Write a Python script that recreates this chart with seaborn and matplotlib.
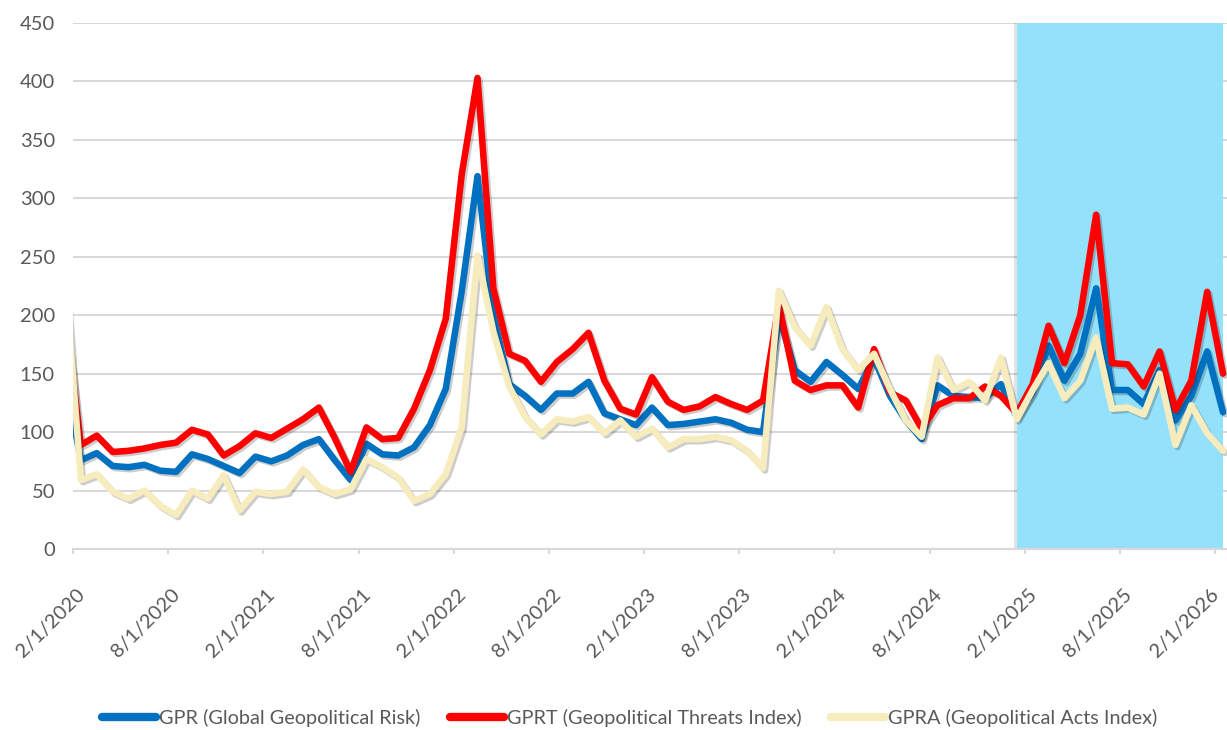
import numpy as np
import pandas as pd
import matplotlib
matplotlib.use("Agg")
import matplotlib.pyplot as plt
import matplotlib.patheffects as pe
import matplotlib.transforms as mtrans
from matplotlib.lines import Line2D
import seaborn as sns

# ---------------- data ----------------
months = pd.date_range("2020-01-01", "2026-02-01", freq="MS")

gpr = [145,
       76, 82, 71, 70, 72, 67, 66, 81, 77, 71, 65, 79, 75, 80, 89, 94, 76, 59,
       90, 81, 80, 87, 106, 137, 220, 319, 200, 141, 131, 119, 133, 133, 143, 116, 111, 106,
       121, 106, 107, 109, 111, 108, 102, 100, 200, 153, 143, 160, 149, 137, 163, 131, 110, 94,
       140, 131, 130, 129, 141, 113, 134, 174, 144, 167, 223, 136, 136, 124, 153, 110, 131, 169, 117]

gprt = [200,
        89, 97, 83, 84, 86, 89, 91, 102, 98, 80, 88, 99, 95, 103, 111, 121, 95, 66,
        104, 94, 95, 120, 153, 197, 320, 403, 223, 167, 161, 143, 160, 171, 185, 144, 120, 115,
        147, 126, 119, 122, 130, 124, 119, 127, 209, 144, 136, 140, 140, 121, 171, 134, 127, 103,
        123, 129, 129, 139, 131, 116, 141, 191, 159, 200, 286, 159, 158, 139, 169, 119, 144, 220, 150]

gpra = [235,
        59, 64, 49, 43, 50, 37, 29, 50, 43, 63, 33, 49, 47, 49, 68, 53, 47, 51,
        77, 70, 61, 41, 47, 64, 104, 251, 186, 139, 113, 98, 111, 109, 113, 99, 110, 96,
        103, 87, 94, 94, 96, 93, 84, 69, 221, 190, 174, 207, 171, 153, 167, 137, 110, 96,
        164, 136, 143, 127, 164, 111, 136, 159, 129, 144, 181, 120, 121, 115, 150, 89, 123, 99, 84]

series_names = ["GPR (Global Geopolitical Risk)",
                "GPRT (Geopolitical Threats Index)",
                "GPRA (Geopolitical Acts Index)"]
colors = ["#0070C0", "#FF0000", "#F7ECBE"]

highlight_start = pd.Timestamp("2025-01-01")
highlight_end = pd.Timestamp("2026-02-01")
y_ticks = list(range(0, 451, 50))
tick_months = (2, 8)

# ---------------- frame ----------------
df = pd.DataFrame({"month": months,
                   series_names[0]: gpr,
                   series_names[1]: gprt,
                   series_names[2]: gpra})
df["pos"] = np.arange(len(months)) - 1          # Feb 2020 -> 0
long = df.melt(id_vars=["month", "pos"], var_name="series", value_name="value")

sns.set_theme(style="white")
plt.rcParams["font.family"] = ["Lato", "DejaVu Sans"]
text_col = "#595959"
grid_col = "#D9D9D9"

fig = plt.figure(figsize=(12.27, 7.30), dpi=100)
ax = fig.add_axes([73 / 1227, 181 / 730, 1154 / 1227, (549 - 23) / 730])

pos_of = dict(zip(df["month"], df["pos"]))
span = ax.axvspan(pos_of[highlight_start], pos_of[highlight_end],
                  color="#94E1FB", lw=0, zorder=1)
span.set_path_effects([pe.SimplePatchShadow(offset=(-2, 0), shadow_rgbFace="k", alpha=0.12),
                       pe.Normal()])

sns.lineplot(data=long, x="pos", y="value", hue="series", palette=colors,
             hue_order=series_names, linewidth=4.7, ax=ax, legend=False, sort=False)
for ln in ax.lines:
    ln.set_solid_joinstyle("round")
    ln.set_solid_capstyle("round")
    ln.set_zorder(3)
    ln.set_path_effects([pe.SimpleLineShadow(offset=(1.5, -1.5), shadow_color="k", alpha=0.22),
                         pe.Normal()])

ax.set_xlim(-0.5, 72.25)
ax.set_ylim(0, 450)
ax.set_axisbelow(True)
ax.yaxis.grid(True, color=grid_col, lw=1.5)
ax.xaxis.grid(False)
for s in ("left", "right", "top"):
    ax.spines[s].set_visible(False)
ax.spines["bottom"].set_color(grid_col)
ax.spines["bottom"].set_linewidth(1.5)

ax.set_yticks(y_ticks)
ax.set_yticklabels([str(v) for v in y_ticks])
ax.tick_params(axis="y", length=0, pad=13, labelsize=14.5, labelcolor=text_col)

sel = df[df["month"].dt.month.isin(tick_months)]
xt = (sel["pos"] - 0.5).tolist()
xl = [f"{d.month}/1/{d.year}" for d in sel["month"]]
ax.set_xticks(xt)
ax.set_xticklabels(xl, rotation=45, ha="right", va="center", rotation_mode="anchor")
ax.tick_params(axis="x", direction="out", length=3.6, width=1.5, color=grid_col,
               pad=27, labelsize=14.5, labelcolor=text_col, bottom=True)
labels = ax.get_xticklabels()
for i, lab in enumerate(labels):
    dx = 9 if i < len(labels) - 1 else 1
    lab.set_transform(lab.get_transform() +
                      mtrans.ScaledTranslation(dx / 100, 0, fig.dpi_scale_trans))
ax.set_xlabel("")
ax.set_ylabel("")

handles = [Line2D([0], [0], color=c, lw=6, solid_capstyle="round") for c in colors]
fig.legend(handles, series_names, loc="center", bbox_to_anchor=(0.513, 0.0164), ncol=3,
           frameon=False, handlelength=2.7, handletextpad=0.15, columnspacing=1.5,
           fontsize=14.3, labelcolor=text_col)

fig.savefig("out.png", dpi=100, facecolor="white")
